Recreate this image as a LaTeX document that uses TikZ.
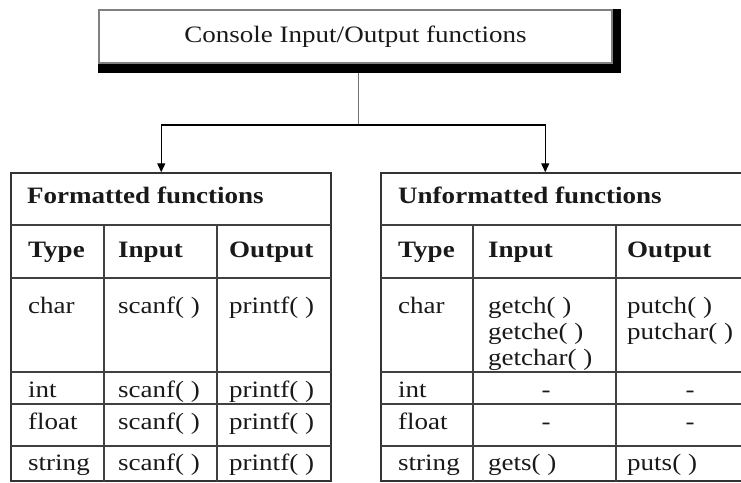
\documentclass[tikz,border=0pt]{standalone}
\usepackage{fontspec}
\setmainfont{Liberation Serif}[FakeStretch=1.15]
\usetikzlibrary{backgrounds,arrows.meta}

\begin{document}
\begin{tikzpicture}[x=1pt,y=-1pt,
  every node/.style={font=\fontsize{23.5}{27}\selectfont,text=black!90},
  frame/.style={shape=rectangle,draw=black!80,line width=1.5pt,inner sep=0pt},
  cell/.style={anchor=base west,inner sep=0pt},
  mid/.style={anchor=base,inner sep=0pt},
  head/.style={cell,font=\fontsize{23.5}{27}\selectfont\bfseries},
  rule/.style={draw=black!75,line width=1.3pt},
  feed/.style={-{Triangle[length=9pt,width=8pt]},line width=1.3pt}]
\useasboundingbox (0,0) rectangle (741,482);
\clip (0,0) rectangle (741,482);

% title box with heavy right and bottom edge
\node[frame,draw=black!50,fill=white,minimum width=513pt,minimum height=53pt]
  (title) at (355.5,36.5) {Console Input/Output functions};
\begin{scope}[on background layer]
\fill[black] (title.north west) rectangle ([xshift=8pt,yshift=-9pt]title.south east);
\end{scope}

% the two tables
\node[frame,minimum width=320pt,minimum height=308pt] (fmt) at (171,327) {};
\node[frame,minimum width=383pt,minimum height=308pt] (unfmt) at (572.5,327) {};

% formatted table rules
\draw[rule] (11,225) to (331,225);
\draw[rule] (11,278) to (331,278);
\draw[rule] (11,372) to (331,372);
\draw[rule] (11,404) to (331,404);
\draw[rule] (11,446) to (331,446);
\draw[rule] (104,225) to (104,482);
\draw[rule] (217,225) to (217,482);

% unformatted table rules
\draw[rule] (381,225) to (764,225);
\draw[rule] (381,278) to (764,278);
\draw[rule] (381,372) to (764,372);
\draw[rule] (381,404) to (764,404);
\draw[rule] (381,446) to (764,446);
\draw[rule] (473,225) to (473,482);
\draw[rule] (616,225) to (616,482);

% connectors
\coordinate (fork) at (358,125);
\draw[draw=black!55,line width=1pt] ([xshift=2.5pt,yshift=-9pt]title.south) to (fork);
\draw[feed] (fork) -| ([xshift=151pt]fmt.north west);
\draw[feed] (fork) -| ([xshift=165pt]unfmt.north west);

% formatted functions
\node[head] (fhead) at (27,203) {Formatted functions};
\node[head] (ftype) at (28,257) {Type};
\node[head] (fin) at (118,257) {Input};
\node[head] (fout) at (229,257) {Output};
\node[cell] (fc1) at (28,313) {char};
\node[cell] (fc2) at (118,313) {scanf( )};
\node[cell] (fc3) at (229,313) {printf( )};
\node[cell] (fi1) at (28,397) {int};
\node[cell] (fi2) at (118,397) {scanf( )};
\node[cell] (fi3) at (229,397) {printf( )};
\node[cell] (ff1) at (28,429) {float};
\node[cell] (ff2) at (118,429) {scanf( )};
\node[cell] (ff3) at (229,429) {printf( )};
\node[cell] (fs1) at (28,470) {string};
\node[cell] (fs2) at (118,470) {scanf( )};
\node[cell] (fs3) at (229,470) {printf( )};

% unformatted functions
\node[head] (uhead) at (398,203) {Unformatted functions};
\node[head] (utype) at (398,257) {Type};
\node[head] (uin) at (488,257) {Input};
\node[head] (uout) at (627,257) {Output};
\node[cell] (uc1) at (398,313) {char};
\node[cell] (uc2) at (488,313) {getch( )};
\node[cell] (uc3) at (488,339) {getche( )};
\node[cell] (uc4) at (488,365) {getchar( )};
\node[cell] (uc5) at (627,313) {putch( )};
\node[cell] (uc6) at (627,339) {putchar( )};
\node[cell] (ui1) at (398,397) {int};
\node[mid] (ui2) at (546,397) {-};
\node[mid] (ui3) at (690,397) {-};
\node[cell] (uf1) at (398,429) {float};
\node[mid] (uf2) at (546,429) {-};
\node[mid] (uf3) at (690,429) {-};
\node[cell] (us1) at (398,470) {string};
\node[cell] (us2) at (488,470) {gets( )};
\node[cell] (us3) at (627,470) {puts( )};
\end{tikzpicture}
\end{document}
